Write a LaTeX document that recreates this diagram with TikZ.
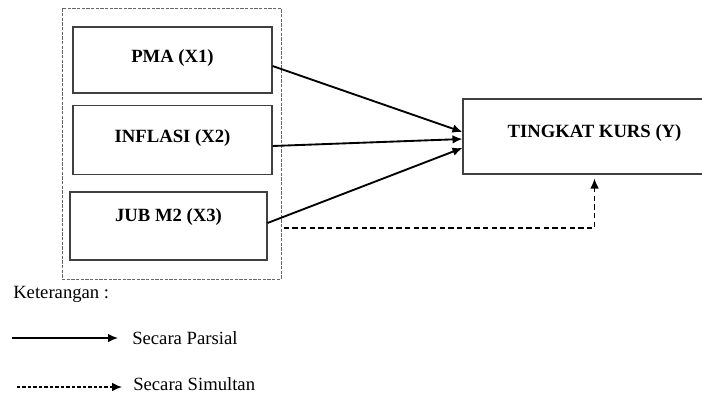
\documentclass[tikz,border=0pt]{standalone}
\usepackage{fontspec}
\setmainfont{Liberation Serif}
\usetikzlibrary{arrows.meta}

\begin{document}
\begin{tikzpicture}[x=0.75pt,y=-0.75pt,>={Latex[length=7.5pt,width=6.5pt]},
	var/.style={draw=black!75,line width=0.8pt,font=\fontsize{14}{16}\selectfont\bfseries,text height=7pt,text depth=3.7pt},
	grup/.style={draw=black!60,line width=0.6pt,dash pattern=on 2.5pt off 1pt,inner sep=0pt},
	parsial/.style={->,line width=1.4pt},
	simultan/.style={->,line width=1.1pt,dash pattern=on 4pt off 2.5pt},
	ket/.style={font=\fontsize{14}{16}\selectfont,inner sep=0pt,anchor=base west}]

\useasboundingbox (0,0) rectangle (702,396);

\node[grup,minimum width=164.25pt,minimum height=203.25pt] (grp) at (171.5,143.5) {};

\node[var,minimum width=149.25pt,minimum height=49.5pt] (x1) at (172.5,60) {PMA (X1)};
\node[var,minimum width=149.25pt,minimum height=51.75pt] (x2) at (172.5,140) {INFLASI (X2)};
\node[var,minimum width=147.75pt,minimum height=51pt,text height=3pt,text depth=9.5pt] (x3) at (168.5,226) {JUB M2 (X3)};
\node[var,minimum width=197.25pt,minimum height=56.25pt,text height=6pt,text depth=4.2pt] (y) at (594.5,136.5) {TINGKAT KURS (Y)};

\draw[parsial] ([yshift=-4.5pt]x1.east) -- ([yshift=3.4pt]y.west);
\draw[parsial] ([yshift=-4.5pt]x2.east) -- ([yshift=-1.9pt]y.west);
\draw[parsial] ([yshift=2.25pt]x3.east) -- ([yshift=-8.6pt]y.west);
\draw[simultan,shorten >=3pt] ([xshift=12pt,yshift=-1.5pt]x3.east) -| (y.south);

% keterangan
\node[ket] (ket) at (13,298) {Keterangan :};
\node[ket] (lp) at (132,344) {Secara Parsial};
\node[ket] (ls) at (133,390) {Secara Simultan};
\coordinate (lp0) at (12,338);
\coordinate (ls0) at (17,387);
\draw[parsial,line width=1.2pt,shorten >=10.5pt] (lp0) -- (lp0 -| lp.west);
\draw[->,line width=0.9pt,dash pattern=on 2.6pt off 1.5pt,shorten >=8.25pt] (ls0) -- (ls0 -| ls.west);

\end{tikzpicture}
\end{document}
